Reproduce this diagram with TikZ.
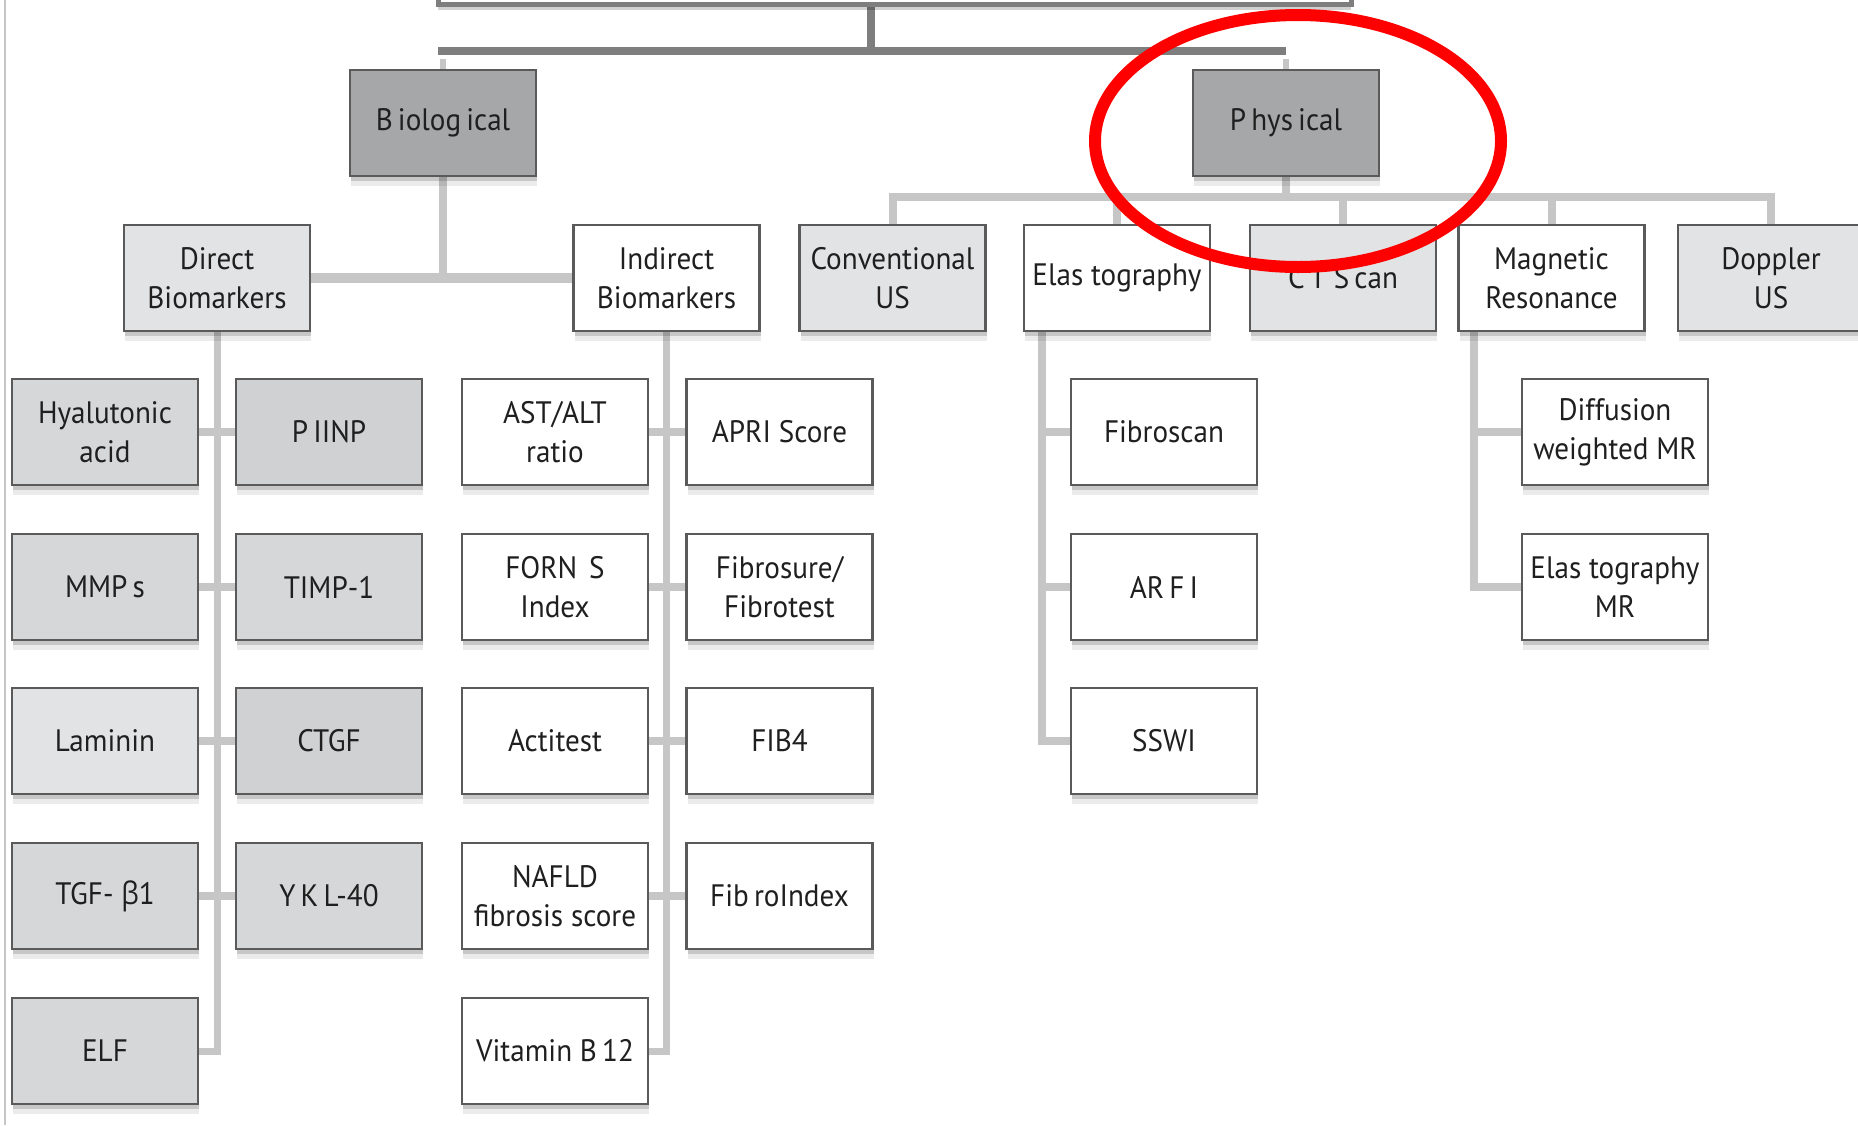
\documentclass[tikz,border=0pt]{standalone}
\usepackage{fontspec}
\setmainfont{PT Sans}[FakeStretch=0.94]
\newfontfamily\grk{Open Sans}[FakeStretch=0.9]
\usetikzlibrary{shadows,calc,backgrounds}
\definecolor{bordc}{HTML}{5A5A5A}
\definecolor{txtc}{HTML}{1F1F1F}
\definecolor{boxmid}{HTML}{A6A7A9}
\definecolor{boxlight}{HTML}{E2E3E4}
\definecolor{boxchild}{HTML}{D6D7D8}
\definecolor{boxdark}{HTML}{D0D1D2}
\definecolor{connc}{HTML}{C6C6C6}
\definecolor{barc}{HTML}{7E7E7E}
\tikzset{
  box/.style={draw=bordc, line width=2.5pt, minimum width=186pt, minimum height=106pt,
    inner sep=0pt, align=center, font=\fontsize{31}{39}\selectfont, text=txtc,
    drop shadow={shadow xshift=1pt, shadow yshift=-10pt, opacity=.08, fill=black},
    drop shadow={shadow xshift=1pt, shadow yshift=-5pt, opacity=.15, fill=black}},
  gbox/.style={box, fill=boxmid},
  lbox/.style={box, fill=boxlight},
  cbox/.style={box, fill=boxchild},
  wbox/.style={box, fill=white},
  conn/.style={draw=connc, line width=8pt},
  topbar/.style={draw=barc, line width=8pt},
}
\begin{document}
\begin{tikzpicture}[x=1pt, y=-1pt]
\useasboundingbox (0,0) rectangle (1858,1125);
\clip (0,0) rectangle (1858,1125);
\begin{scope}[on background layer]
\fill[white] (0,0) rectangle (1858,1125);
\end{scope}
\draw[gray!45, line width=2pt] (5,0) -- (5,1125);

% root (partly visible)
\node[draw=barc, line width=5pt, fill=white, minimum width=913pt, minimum height=110pt,
  drop shadow={shadow xshift=0pt, shadow yshift=-6pt, opacity=.18, fill=black}] (root) at (894.5,-51) {};

% level 1
\node[gbox] (bio) at (443,123) {B\,iolog\,ical};
\node[gbox] (phys) at (1286,123) {P\,hys\,ical};

% level 2
\node[lbox] (direct) at (217,278) {Direct\\Biomarkers};
\node[wbox] (indirect) at (666.5,278) {Indirect\\Biomarkers};
\node[lbox] (conv) at (892.5,278) {Conventional\\US};
\node[wbox] (elast) at (1117,278) {Elas tography};
\node[lbox] (ct) at (1343,278) {C\,T S\,can};
\node[wbox] (mr) at (1551.5,278) {Magnetic\\Resonance};
\node[lbox] (doppler) at (1771,278) {Doppler\\US};

% direct biomarkers
\node[cbox] (hyal) at (105,432) {Hyalutonic\\acid};
\node[cbox, fill=boxdark] (piinp) at (329,432) {P\,IINP};
\node[cbox] (mmps) at (105,587) {MMP\,s};
\node[cbox] (timp) at (329,587) {TIMP-1};
\node[cbox, fill=boxlight] (laminin) at (105,741) {Laminin};
\node[cbox, fill=boxdark] (ctgf) at (329,741) {CTGF};
\node[cbox] (tgf) at (105,896) {TGF- {\grk β}1};
\node[cbox] (ykl) at (329,896) {Y\,K\,L-40};
\node[cbox] (elf) at (105,1051) {ELF};

% indirect biomarkers
\node[wbox] (astalt) at (555,432) {AST/ALT\\ratio};
\node[wbox] (apri) at (779.5,432) {APRI Score};
\node[wbox] (forns) at (555,587) {FORN\hspace{12pt}S\\Index};
\node[wbox] (fibrosure) at (779.5,587) {Fibrosure/\\Fibrotest};
\node[wbox] (actitest) at (555,741) {Actitest};
\node[wbox] (fib4) at (779.5,741) {FIB4};
\node[wbox] (nafld) at (555,896) {NAFLD\\fibrosis score};
\node[wbox] (fibroindex) at (779.5,896) {Fib\,roIndex};
\node[wbox] (vitb) at (555,1051) {Vitamin B\,12};

% elastography
\node[wbox] (fibroscan) at (1164,432) {Fibroscan};
\node[wbox] (arfi) at (1164,587) {AR\,F\,I};
\node[wbox] (sswi) at (1164,741) {SSWI};

% magnetic resonance
\node[wbox] (diffusion) at (1615,432) {Diffusion\\weighted MR};
\node[wbox] (elastmr) at (1615,587) {Elas tography\\MR};

% connectors
\begin{scope}[on background layer]
\coordinate (stemtop) at ($(root.south)+(-24,0)$);
\coordinate (barL) at (438,51);
\coordinate (barR) at (1286,51);
\coordinate (stubtop) at (0,59);
\coordinate (pbus) at (0,197);
\draw[topbar] (barL) -- (barR);
\draw[topbar] (stemtop) -- (stemtop |- barL);
\draw[conn, line width=6pt] (bio.north) -- (bio.north |- stubtop);
\draw[conn, line width=6pt] (phys.north) -- (phys.north |- stubtop);

\draw[conn] (bio.south) -- (bio.south |- direct.east);
\draw[conn, line width=10pt] (direct.east) -- (indirect.west);

\draw[conn] (phys.south) -- (phys.south |- pbus);
\draw[conn] (conv.north) -- (conv.north |- pbus) -- (doppler.north |- pbus) -- (doppler.north);
\draw[conn] (elast.north) -- (elast.north |- pbus);
\draw[conn] (ct.north) -- (ct.north |- pbus);
\draw[conn] (mr.north) -- (mr.north |- pbus);

\draw[conn, line width=7pt] (direct.south) -- (direct.south |- elf.east) -- (elf.east);
\draw[conn] (hyal.east) -- (piinp.west);
\draw[conn] (mmps.east) -- (timp.west);
\draw[conn] (laminin.east) -- (ctgf.west);
\draw[conn] (tgf.east) -- (ykl.west);

\draw[conn, line width=7pt] (indirect.south) -- (indirect.south |- vitb.east) -- (vitb.east);
\draw[conn] (astalt.east) -- (apri.west);
\draw[conn] (forns.east) -- (fibrosure.west);
\draw[conn] (actitest.east) -- (fib4.west);
\draw[conn] (nafld.east) -- (fibroindex.west);

\coordinate (etop) at ($(elast.south west)+(19,0)$);
\draw[conn] (etop) -- (etop |- sswi.west) -- (sswi.west);
\draw[conn] (etop |- fibroscan.west) -- (fibroscan.west);
\draw[conn] (etop |- arfi.west) -- (arfi.west);

\coordinate (mtop) at ($(mr.south west)+(17,0)$);
\draw[conn] (mtop) -- (mtop |- elastmr.west) -- (elastmr.west);
\draw[conn] (mtop |- diffusion.west) -- (diffusion.west);
\end{scope}

% highlight
\draw[red, line width=12pt] (1298,141) ellipse [x radius=203pt, y radius=126pt];
\end{tikzpicture}
\end{document}
